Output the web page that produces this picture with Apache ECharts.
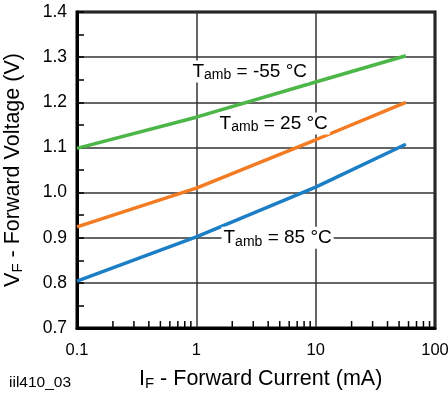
<!DOCTYPE html>
<html><head><meta charset="utf-8">
<script src="https://cdn.jsdelivr.net/npm/echarts@6/dist/echarts.min.js"></script>
<style>html,body{margin:0;padding:0;background:#fff}#c{width:448px;height:394px}</style>
</head><body><div id="c"></div>
<script>
// ---- data ----
const current = [0.1, 1, 10, 57];                 // I_F (mA)
const vfMinus55 = [1.098, 1.167, 1.245, 1.303];   // V_F at Tamb = -55 °C
const vf25 = [0.924, 1.010, 1.117, 1.200];        // V_F at Tamb = 25 °C
const vf85 = [0.804, 0.902, 1.012, 1.107];        // V_F at Tamb = 85 °C
const seriesNames = ['-55 °C', '25 °C', '85 °C'];
const xTickLabels = ['0.1', '1', '10', '100'];
const yTickLabels = ['0.7', '0.8', '0.9', '1.0', '1.1', '1.2', '1.3', '1.4'];
const minorCurrentTicks = [0.2,0.3,0.4,0.5,0.6,0.7,0.8,0.9,2,3,4,5,6,7,8,9,20,30,40,50,60,70,80,90];

const FONT = '"Liberation Sans", Arial, Helvetica, sans-serif';
const chart = echarts.init(document.getElementById('c'), null, {renderer: 'canvas'});

function pts(vals) { return current.map((x, i) => [x, vals[i]]); }
function tLabel(temp) { return '{t|T}{s|amb}{t| = ' + temp + '}'; }
const labelRich = {
  t: {fontSize: 19, fontFamily: FONT, color: '#000', lineHeight: 22},
  s: {fontSize: 14, fontFamily: FONT, color: '#000', lineHeight: 6, verticalAlign: 'bottom'}
};
function mp(coord, temp) {
  return {
    symbol: 'rect', symbolSize: 0, silent: true, z: 10,
    data: [{coord: coord}],
    label: {
      show: true, position: 'inside', formatter: tLabel(temp),
      backgroundColor: '#fff', padding: [0, 2, 0, 2], rich: labelRich
    }
  };
}
const titleRich = {
  t: {fontSize: 21.5, fontFamily: FONT, color: '#000', fill: '#000', lineHeight: 24},
  s: {fontSize: 15, fontFamily: FONT, color: '#000', fill: '#000', lineHeight: 6, verticalAlign: 'bottom'}
};

const option = {
  animation: false,
  backgroundColor: '#fff',
  grid: {left: 77, right: 13, top: 12, bottom: 66, outerBoundsMode: 'none', containLabel: false,
    show: true, borderColor: '#000', borderWidth: 3, backgroundColor: 'transparent'},
  xAxis: {
    type: 'log', logBase: 10, min: 0.1, max: 100,
    axisLine: {show: true, lineStyle: {color: '#000', width: 3}},
    axisTick: {show: false},
    splitLine: {show: true, lineStyle: {color: '#333', width: 1.5}},
    axisLabel: {
      fontSize: 16.5, fontFamily: FONT, color: '#000', margin: 14, hideOverlap: false,
      formatter: v => { const i = [0.1,1,10,100].findIndex(t => Math.abs(t - v) / t < 1e-6); return i >= 0 ? xTickLabels[i] : ''; }
    }
  },
  yAxis: {
    type: 'value', min: 0.7, max: 1.4, interval: 0.1,
    name: '{t|V}{s|F}{t| - Forward Voltage (V)}',
    nameLocation: 'middle', nameGap: 52, nameRotate: 90,
    nameTextStyle: {rich: titleRich},
    axisLine: {show: true, lineStyle: {color: '#000', width: 3}},
    axisTick: {show: true, inside: true, length: 7, lineStyle: {color: '#000', width: 1.5}},
    minorTick: {show: true, splitNumber: 2, length: 7, lineStyle: {color: '#000', width: 1.5}},
    splitLine: {show: true, lineStyle: {color: '#333', width: 1.5}},
    axisLabel: {
      fontSize: 17.5, fontFamily: FONT, color: '#000', margin: 10,
      formatter: v => yTickLabels[Math.round((v - 0.7) * 10)] || ''
    }
  },
  series: [
    {
      type: 'custom', silent: true, z: 3,
      data: minorCurrentTicks.map(x => [x, 0.7]),
      renderItem: (params, api) => {
        const p = api.coord([api.value(0), api.value(1)]);
        return {type: 'line', shape: {x1: p[0], y1: p[1], x2: p[0], y2: p[1] - 7}, style: {stroke: '#000', lineWidth: 1.5}};
      }
    },
    {name: seriesNames[0], type: 'line', data: pts(vfMinus55), showSymbol: false, z: 4,
      lineStyle: {color: '#4cb748', width: 3.5}, itemStyle: {color: '#4cb748'},
      markPoint: mp([2.8, 1.268], seriesNames[0])},
    {name: seriesNames[1], type: 'line', data: pts(vf25), showSymbol: false, z: 4,
      lineStyle: {color: '#f37b22', width: 3.5}, itemStyle: {color: '#f37b22'},
      markPoint: mp([4.45, 1.153], seriesNames[1])},
    {name: seriesNames[2], type: 'line', data: pts(vf85), showSymbol: false, z: 4,
      lineStyle: {color: '#1c7fc6', width: 3.5}, itemStyle: {color: '#1c7fc6'},
      markPoint: mp([4.8, 0.9], seriesNames[2])}
  ],
  graphic: [
    {type: 'text', left: 139, top: 368, style: {
      text: '{t|I}{s|F}{t| - Forward Current (mA)}', rich: titleRich
    }},
    {type: 'text', left: 9, top: 375, style: {text: 'iil410_03', fontSize: 15.5, fontFamily: FONT, fill: '#000'}}
  ]
};
chart.setOption(option);
</script>
</body></html>
